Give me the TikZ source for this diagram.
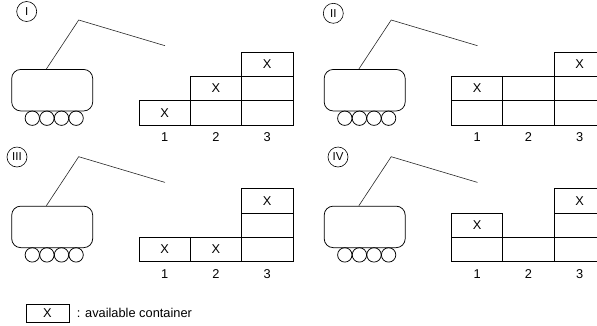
\documentclass[tikz,border=0pt]{standalone}
\usepackage{fontspec}
\setmainfont{Liberation Sans}
\usetikzlibrary{calc}
\begin{document}
\begin{tikzpicture}[x=1pt,y=-1pt,line width=0.75pt,
  cell/.style={draw, minimum width=51.3pt, minimum height=24.3pt, inner sep=0pt,
    font=\fontsize{12.8}{14}\selectfont},
  colnum/.style={inner sep=0pt, font=\fontsize{12.8}{14}\selectfont},
  body/.style={draw, rounded corners=9pt, minimum width=81pt, minimum height=41.5pt, inner sep=0pt},
  wheel/.style={draw, circle, minimum size=14.4pt, inner sep=0pt},
  boom/.style={draw, line width=0.6pt, black!85},
  tag/.style={draw, circle, minimum size=20pt, inner sep=0pt, line width=0.6pt,
    font=\fontsize{11.5}{13}\selectfont}]
\useasboundingbox (0,0) rectangle (597,325);
\clip (0,0) rectangle (597,325);
% one crane with its container stacks: #1 prefix, #2/#3 offset, #4 cells col/row/text
\newcommand{\cranepanel}[4]{%
  \begin{scope}[shift={(#2,#3)}]
    \node[body] (#1-body) at (52.2,90.2) {};
    \foreach \i/\x in {1/32.3,2/46.9,3/61.5,4/76.1}
      \node[wheel] (#1-w\i) at (\x,118.2) {};
    \coordinate (#1-base) at ($(#1-body.north west)+(35,0)$);
    \coordinate (#1-joint) at (78.7,20);
    \coordinate (#1-tip) at (165,45.7);
    \draw[boom] (#1-base) -- (#1-joint) -- (#1-tip);
    \foreach \c/\r/\t in {#4}
      \node[cell] (#1-\c-\r) at ({139+51.3*(\c-0.5)},{125-24.3*(\r-0.5)}) {\t};
    \foreach \c/\x in {1/164.65,2/215.95,3/267.25}
      \node[colnum] (#1-n\c) at (\x,137) {\c};
  \end{scope}}
\cranepanel{p1}{0}{0}{1/1/X,2/1/{},2/2/X,3/1/{},3/2/{},3/3/X}
\cranepanel{p2}{312.5}{0}{1/1/{},1/2/X,2/1/{},2/2/{},3/1/{},3/2/{},3/3/X}
\cranepanel{p3}{0}{136.7}{1/1/X,2/1/X,3/1/{},3/2/{},3/3/X}
\cranepanel{p4}{312.5}{136.7}{1/1/{},1/2/X,2/1/{},3/1/{},3/2/{},3/3/X}
% panel tags
\node[tag] (tag1) at (26.7,11.5) {I};
\node[tag] (tag2) at (333.3,13.3) {II};
\node[tag] (tag3) at (17,157) {III};
\node[tag] (tag4) at (338,157) {IV};
% legend
\node[draw, minimum width=43pt, minimum height=18.3pt, inner sep=0pt,
  font=\fontsize{12.8}{14}\selectfont] (key) at (47.5,313.2) {X};
\node[anchor=west, inner sep=0pt, font=\fontsize{12.8}{14}\selectfont] (keytext) at (76.5,313.2) {: available container};
\end{tikzpicture}
\end{document}
